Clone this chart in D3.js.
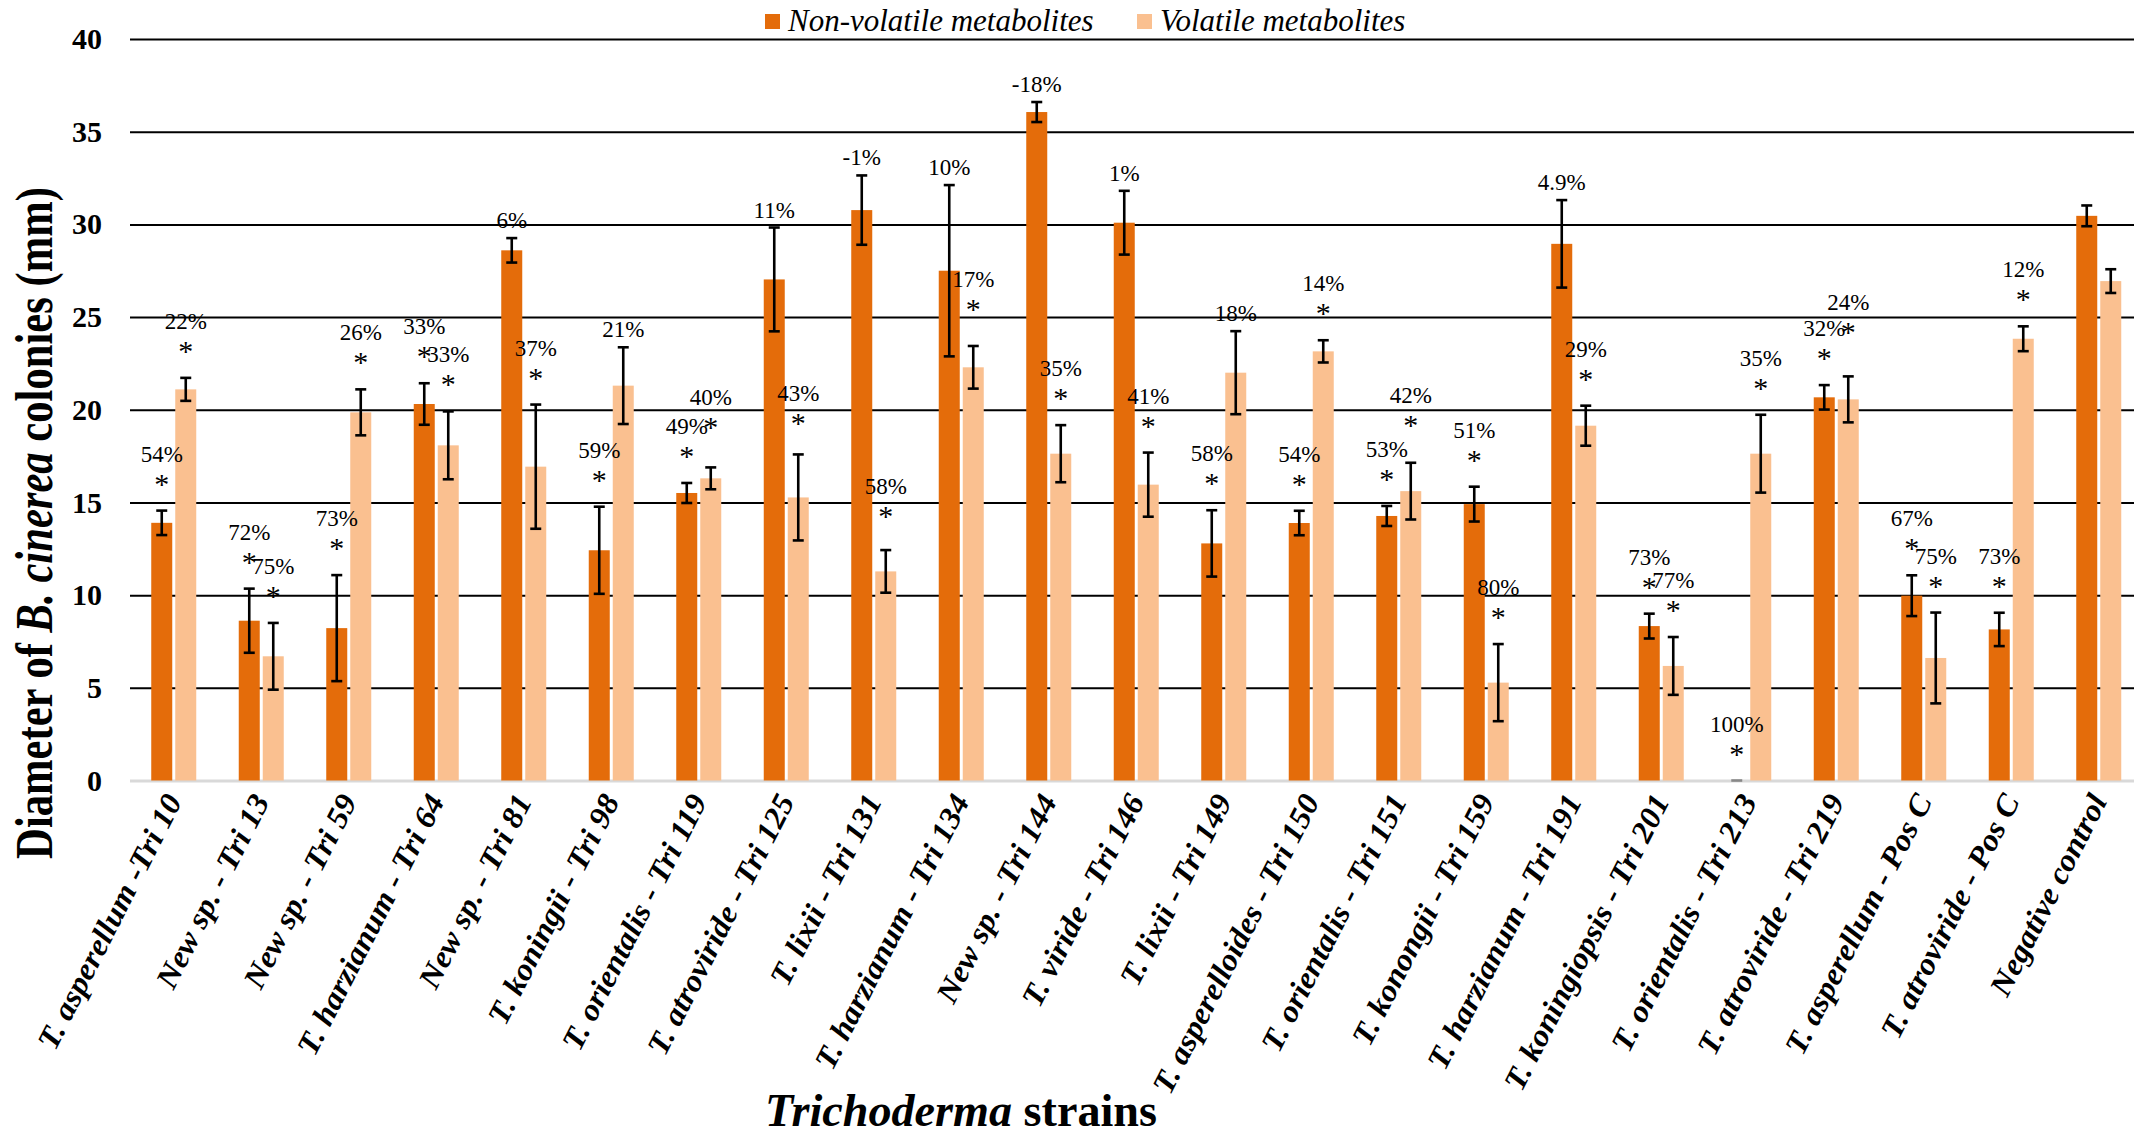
<!DOCTYPE html>
<html>
<head>
<meta charset="utf-8">
<script src="https://cdn.jsdelivr.net/npm/d3@7"></script>
<style>
  html, body { margin: 0; padding: 0; background: #fff; }
  svg { display: block; }
  text { font-family: "Liberation Serif", "DejaVu Serif", serif; fill: #000; }
</style>
</head>
<body>
<svg id="chart" width="2134" height="1136"></svg>
<script>
// Trichoderma strains tested against B. cinerea
const strains = [
  "T. asperellum -Tri 10", "New sp. - Tri 13", "New  sp. - Tri 59", "T. harzianum - Tri 64",
  "New sp. - Tri 81", "T. koningii - Tri 98", "T. orientalis - Tri 119", "T. atroviride - Tri 125",
  "T. lixii - Tri 131", "T. harzianum - Tri 134", "New sp. - Tri 144", "T. viride - Tri 146",
  "T. lixii - Tri 149", "T. asperelloides - Tri 150", "T. orientalis - Tri 151", "T. konongii - Tri 159",
  "T. harzianum - Tri 191", "T. koningiopsis - Tri 201", "T. orientalis - Tri 213", "T. atroviride - Tri 219",
  "T. asperellum - Pos C", "T. atroviride - Pos C", "Negative control"
];

// Colony diameter (mm), non-volatile metabolites
const nonVolatile = [13.9, 8.62, 8.22, 20.31, 28.6, 12.42, 15.51, 27.03, 30.77, 27.5, 36.06, 30.09,
  12.79, 13.89, 14.27, 14.91, 28.95, 8.33, 0, 20.67, 9.97, 8.15, 30.46];
const nonVolatileErr = [0.66, 1.73, 2.86, 1.12, 0.66, 2.35, 0.54, 2.8, 1.87, 4.62, 0.54, 1.72,
  1.79, 0.66, 0.54, 0.94, 2.36, 0.67, 0, 0.66, 1.1, 0.9, 0.56];
const nonVolatilePct = ["54%", "72%", "73%", "33%", "6%", "59%", "49%", "11%", "-1%", "10%", "-18%", "1%",
  "58%", "54%", "53%", "51%", "4.9%", "73%", "100%", "32%", "67%", "73%", ""];
const nonVolatileSig = [1, 1, 1, 1, 0, 1, 1, 0, 0, 0, 0, 0, 1, 1, 1, 1, 0, 1, 1, 1, 1, 1, 0];

// Colony diameter (mm), volatile metabolites
const volatile = [21.1, 6.7, 19.86, 18.08, 16.93, 21.3, 16.3, 15.27, 11.28, 22.29, 17.63, 15.96,
  22.0, 23.15, 15.61, 5.28, 19.14, 6.18, 17.63, 20.56, 6.61, 23.83, 26.94];
const volatileErr = [0.62, 1.8, 1.24, 1.83, 3.35, 2.07, 0.59, 2.32, 1.15, 1.15, 1.54, 1.73,
  2.24, 0.6, 1.53, 2.08, 1.08, 1.56, 2.1, 1.24, 2.45, 0.67, 0.64];
const volatilePct = ["22%", "75%", "26%", "33%", "37%", "21%", "40%", "43%", "58%", "17%", "35%", "41%",
  "18%", "14%", "42%", "80%", "29%", "77%", "35%", "24%", "75%", "12%", ""];
const volatileSig = [1, 1, 1, 1, 1, 0, 1, 1, 1, 1, 1, 1, 0, 1, 1, 1, 1, 1, 1, 1, 1, 1, 0];

const seriesNames = ["Non-volatile metabolites", "Volatile metabolites"];
const yTicks = [0, 5, 10, 15, 20, 25, 30, 35, 40];

const colors = { "Non-volatile metabolites": "#E46C0A", "Volatile metabolites": "#FAC090" };

const svg = d3.select("#chart");
const plot = { left: 130, right: 2142.5, top: 39, bottom: 780.5 };

const x = d3.scaleBand().domain(strains).range([plot.left, plot.right]).paddingInner(0).paddingOuter(0);
const groupHalf = 22.5;
const xs = d3.scaleBand().domain(seriesNames)
  .range([x.bandwidth() / 2 - groupHalf, x.bandwidth() / 2 + groupHalf])
  .paddingInner(0.125).paddingOuter(0);
const y = d3.scaleLinear().domain([0, 40]).range([plot.bottom, plot.top]);

// Horizontal gridlines and y tick labels
const yAxis = d3.axisLeft(y).tickValues(yTicks).tickSize(-(plot.right - plot.left)).tickPadding(28);
const gy = svg.append("g").attr("transform", `translate(${plot.left},0)`).call(yAxis);
gy.select(".domain").remove();
gy.selectAll(".tick line")
  .attr("stroke", d => d === 0 ? "#d9d9d9" : "#000")
  .attr("stroke-width", d => d === 0 ? 3 : 2);
gy.selectAll(".tick text")
  .style("font-family", "'Liberation Serif', serif")
  .style("font-size", "30px").style("font-weight", "bold").attr("fill", "#000");

// Flatten into per-bar rows
const rows = [];
strains.forEach((s, i) => {
  rows.push({ strain: s, series: seriesNames[0], value: nonVolatile[i], err: nonVolatileErr[i], pct: nonVolatilePct[i], sig: nonVolatileSig[i] });
  rows.push({ strain: s, series: seriesNames[1], value: volatile[i], err: volatileErr[i], pct: volatilePct[i], sig: volatileSig[i] });
});
const cx = d => x(d.strain) + xs(d.series) + xs.bandwidth() / 2;

// Bars
svg.append("g").selectAll("rect").data(rows).join("rect")
  .attr("x", d => x(d.strain) + xs(d.series))
  .attr("width", xs.bandwidth())
  .attr("y", d => y(d.value))
  .attr("height", d => y(0) - y(d.value))
  .attr("fill", d => colors[d.series]);

// Error bars
const cap = 5.5;
const eb = svg.append("g").attr("stroke", "#000").attr("stroke-width", 2.6);
rows.forEach(d => {
  const lo = y(Math.max(0, d.value - d.err)), hi = y(d.value + d.err), c = cx(d);
  if (d.err > 0) eb.append("line").attr("x1", c).attr("x2", c).attr("y1", lo).attr("y2", hi);
  eb.append("line").attr("x1", c - cap).attr("x2", c + cap).attr("y1", hi).attr("y2", hi)
    .attr("stroke", d.err > 0 ? "#000" : "#888");
  if (d.err > 0) eb.append("line").attr("x1", c - cap).attr("x2", c + cap).attr("y1", lo).attr("y2", lo);
});

// Significance stars and inhibition percentages; a few volatile-series
// annotations are lifted a little so neighbouring labels stay readable
const annLift = {
  "Volatile metabolites|T. orientalis - Tri 119": 13,
  "Volatile metabolites|T. atroviride - Tri 125": 4,
  "Volatile metabolites|T. lixii - Tri 131": 7,
  "Volatile metabolites|T. harzianum - Tri 134": 10,
  "Volatile metabolites|T. orientalis - Tri 151": 11,
  "Volatile metabolites|T. atroviride - Tri 219": 17
};
const ann = svg.append("g");
rows.filter(d => d.pct).forEach(d => {
  const top = y(d.value + d.err) - (annLift[d.series + "|" + d.strain] || 0);
  let labelY;
  if (d.sig) {
    const starY = top - 31;
    ann.append("text").attr("x", cx(d)).attr("y", starY + 14)
      .attr("text-anchor", "middle").style("font-size", "30px").text("*");
    labelY = starY - 26;
  } else {
    labelY = top - 18;
  }
  ann.append("text").attr("x", cx(d)).attr("y", labelY + 8)
    .attr("text-anchor", "middle").style("font-size", "23px").text(d.pct);
});

// Rotated category labels (slightly widened along the text direction)
svg.append("g").selectAll("text").data(strains).join("text")
  .attr("transform", d => `translate(${x(d) + x.bandwidth() / 2 + 9},801) rotate(-63) scale(1.05,1)`)
  .attr("text-anchor", "end")
  .style("font-size", "31px").style("font-weight", "bold").style("font-style", "italic")
  .text(d => d);

// Y axis title, fitted to its span along the axis
const yt = svg.append("text")
  .attr("text-anchor", "middle")
  .style("font-size", "53px").style("font-weight", "bold");
yt.append("tspan").text("Diameter of ");
yt.append("tspan").style("font-style", "italic").text("B. cinerea");
yt.append("tspan").text(" colonies (mm)");
const ytScale = 672 / yt.node().getComputedTextLength();
yt.attr("transform", `translate(52,523) rotate(-90) scale(${ytScale},1)`);

// X axis title
const xt = svg.append("text")
  .attr("text-anchor", "middle").style("font-size", "46px").style("font-weight", "bold");
xt.append("tspan").style("font-style", "italic").text("Trichoderma");
xt.append("tspan").text(" strains");
const xtScale = 392 / xt.node().getComputedTextLength();
xt.attr("transform", `translate(961,1126) scale(${xtScale},1)`);

// Legend
const legend = svg.append("g");
const legendX = [765, 1137];
seriesNames.forEach((s, i) => {
  legend.append("rect").attr("x", legendX[i]).attr("y", 14).attr("width", 15).attr("height", 15).attr("fill", colors[s]);
  legend.append("text").attr("x", legendX[i] + 23).attr("y", 31)
    .style("font-size", "31px").style("font-style", "italic").text(s);
});
</script>
</body>
</html>
